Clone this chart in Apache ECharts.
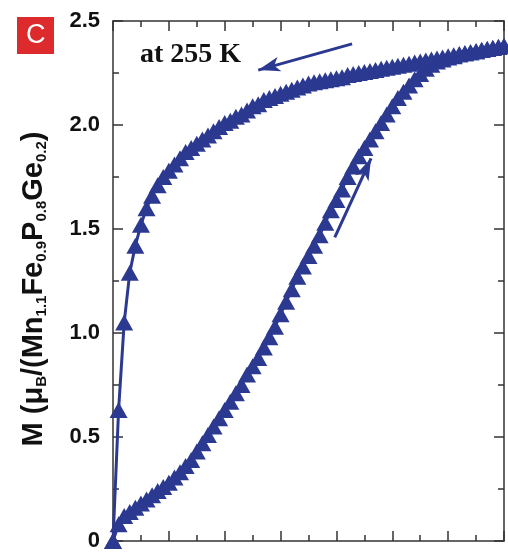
<!DOCTYPE html>
<html>
<head>
<meta charset="utf-8">
<script src="https://cdn.jsdelivr.net/npm/echarts@6/dist/echarts.min.js"></script>
<style>
html, body { margin: 0; padding: 0; background: #fff; }
#main { width: 508px; height: 554px; }
</style>
</head>
<body>
<div id="main"></div>
<script>
var dom = document.getElementById('main');
var myChart = echarts.init(dom);

// field values (arbitrary units, x axis has no printed labels)
var field = [0, 0.1, 0.2, 0.3, 0.4, 0.5, 0.6, 0.7, 0.8, 0.9,
  1.0, 1.1, 1.2, 1.3, 1.4, 1.5, 1.6, 1.7, 1.8, 1.9,
  2.0, 2.1, 2.2, 2.3, 2.4, 2.5, 2.6, 2.7, 2.8, 2.9,
  3.0, 3.1, 3.2, 3.3, 3.4, 3.5, 3.6, 3.7, 3.8, 3.9,
  4.0, 4.1, 4.2, 4.3, 4.4, 4.5, 4.6, 4.7, 4.8, 4.9,
  5.0, 5.1, 5.2, 5.3, 5.4, 5.5, 5.6, 5.7, 5.8, 5.9,
  6.0, 6.1, 6.2, 6.3, 6.4, 6.5, 6.6, 6.7, 6.8, 6.9, 7.0];

// increasing field branch (lower S-shaped curve)
var mUp = [0, 0.08, 0.12, 0.14, 0.16, 0.18, 0.20, 0.22, 0.24, 0.26,
  0.28, 0.305, 0.33, 0.36, 0.39, 0.43, 0.47, 0.51, 0.55, 0.59,
  0.63, 0.67, 0.71, 0.75, 0.80, 0.84, 0.88, 0.93, 0.98, 1.03,
  1.09, 1.15, 1.21, 1.27, 1.32, 1.37, 1.42, 1.47, 1.53, 1.59,
  1.64, 1.69, 1.75, 1.80, 1.85, 1.89, 1.93, 1.97, 2.01, 2.05,
  2.09, 2.13, 2.16, 2.19, 2.22, 2.245, 2.27, 2.29, 2.305, 2.315,
  2.325, 2.33, 2.34, 2.345, 2.35, 2.355, 2.36, 2.365, 2.37, 2.375, 2.38];

// decreasing field branch (upper curve)
var mDown = [0, 0.63, 1.05, 1.29, 1.42, 1.52, 1.60, 1.66, 1.71, 1.75,
  1.78, 1.81, 1.84, 1.87, 1.89, 1.91, 1.93, 1.95, 1.97, 1.99,
  2.01, 2.02, 2.04, 2.05, 2.07, 2.09, 2.10, 2.12, 2.13, 2.14,
  2.15, 2.16, 2.17, 2.18, 2.19, 2.20, 2.205, 2.21, 2.215, 2.22,
  2.225, 2.23, 2.24, 2.245, 2.25, 2.255, 2.26, 2.265, 2.27, 2.275,
  2.28, 2.285, 2.29, 2.295, 2.30, 2.305, 2.31, 2.315, 2.32, 2.325,
  2.33, 2.335, 2.34, 2.345, 2.35, 2.355, 2.36, 2.365, 2.37, 2.375, 2.38];

var yTicks = [0, 0.5, 1.0, 1.5, 2.0, 2.5];

// arrows: [start, end] in data coordinates
var arrowDown = [[4.28, 2.39], [2.60, 2.264]];
var arrowUp = [[3.97, 1.46], [4.62, 1.84]];

var blue = '#2b3990';
var axisColor = '#333';

function pairs(xs, ys) {
  return xs.map(function (x, i) { return [x, ys[i]]; });
}

var xBase = {
  type: 'value', min: 0, max: 7, interval: 1,
  axisLine: { show: true, onZero: false, lineStyle: { color: axisColor, width: 1.5 } },
  axisTick: { inside: true, length: 10, lineStyle: { color: axisColor, width: 1.5 } },
  minorTick: { show: true, splitNumber: 2, length: 6, lineStyle: { color: axisColor, width: 1.5 } },
  axisLabel: { show: false },
  splitLine: { show: false }
};

var yBase = {
  type: 'value', min: 0, max: 2.5, interval: 0.5,
  axisLine: { show: true, onZero: false, lineStyle: { color: axisColor, width: 1.5 } },
  axisTick: { inside: true, length: 10, lineStyle: { color: axisColor, width: 1.5 } },
  minorTick: { show: true, splitNumber: 2, length: 6, lineStyle: { color: axisColor, width: 1.5 } },
  splitLine: { show: false }
};

var seriesStyle = {
  type: 'line',
  symbol: 'triangle',
  symbolSize: [18, 16],
  showAllSymbol: true,
  lineStyle: { color: blue, width: 3 },
  itemStyle: { color: blue }
};

option = {
  animation: false,
  backgroundColor: '#fff',
  grid: { left: 113, right: 4, top: 21, bottom: 13 },
  xAxis: [
    Object.assign({}, xBase, { position: 'bottom' }),
    Object.assign({}, xBase, { position: 'top' })
  ],
  yAxis: [
    Object.assign({}, yBase, {
      position: 'left',
      axisLabel: {
        show: true, margin: 13, color: '#111',
        fontFamily: 'Liberation Sans', fontWeight: 'bold', fontSize: 22,
        formatter: function (v) {
          return yTicks.indexOf(v) === 0 ? '0' : v.toFixed(1);
        }
      },
      name: 'M (\u03bc{sub|B}/(Mn{sub|1.1}Fe{sub|0.9}P{sub|0.8}Ge{sub|0.2})',
      nameLocation: 'middle',
      nameGap: 64,
      nameRotate: 90,
      nameTextStyle: {
        fontFamily: 'Liberation Sans', fontWeight: 'bold', fontSize: 29,
        color: '#111', lineHeight: 31, padding: [0, 16, 0, 0],
        rich: {
          sub: {
            fontFamily: 'Liberation Sans', fontWeight: 'bold', fontSize: 15,
            color: '#111', verticalAlign: 'bottom', lineHeight: 15
          }
        }
      }
    }),
    Object.assign({}, yBase, { position: 'right', axisLabel: { show: false } })
  ],
  graphic: [
    {
      type: 'rect', left: 17, top: 17,
      shape: { width: 37, height: 37 },
      style: { fill: '#dc2a2d' }
    },
    {
      type: 'text', left: 26, top: 22,
      style: {
        text: 'C', fill: '#fff',
        font: '27px "Liberation Sans"'
      }
    },
    {
      type: 'text', left: 140, top: 41,
      style: {
        text: 'at 255 K', fill: '#111',
        font: 'bold 28px "Liberation Serif"'
      }
    }
  ],
  series: [
    Object.assign({}, seriesStyle, {
      data: pairs(field, mUp),
      markLine: {
        silent: true,
        symbol: ['none', 'arrow'],
        symbolSize: [11, 22],
        label: { show: false },
        lineStyle: { color: blue, width: 3, type: 'solid' },
        data: [
          [{ coord: arrowDown[0] }, { coord: arrowDown[1] }],
          [{ coord: arrowUp[0] }, { coord: arrowUp[1] }]
        ]
      }
    }),
    Object.assign({}, seriesStyle, {
      data: pairs(field, mDown)
    })
  ]
};

myChart.setOption(option, true);
</script>
</body>
</html>
